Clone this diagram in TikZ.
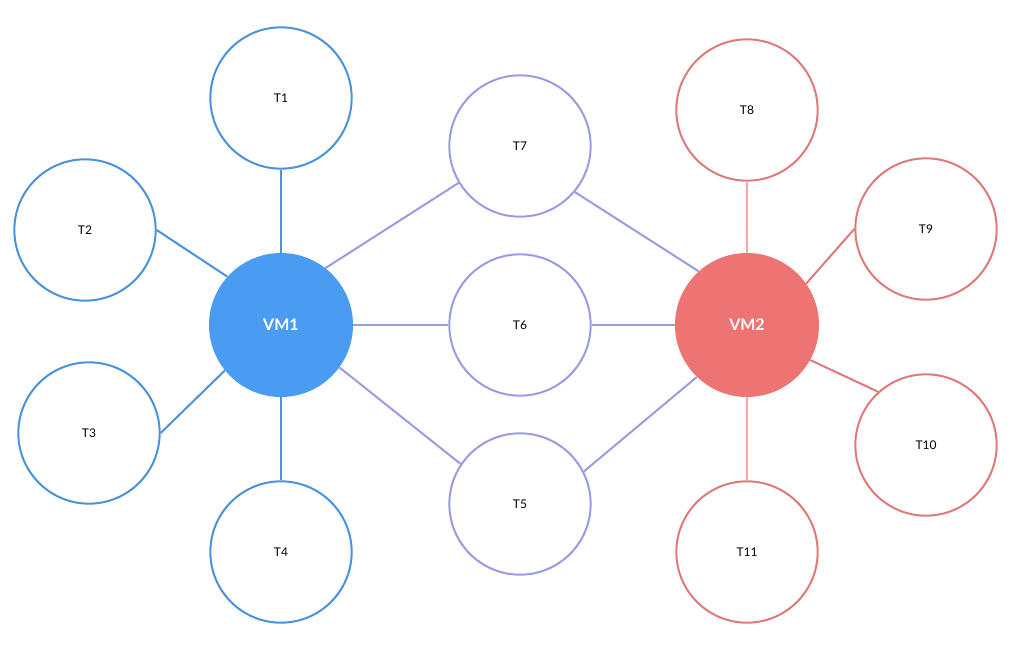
\documentclass[tikz,border=0pt]{standalone}
\usepackage{fontspec}
\setmainfont{Lato}
\usepackage{tikz}
\usetikzlibrary{positioning, calc}
\definecolor{vmblue}{HTML}{4A9BF2}
\definecolor{lineblue}{HTML}{4A92DA}
\definecolor{vmred}{HTML}{EE7373}
\definecolor{linered}{HTML}{DE7A7A}
\definecolor{linepink}{HTML}{F2A9A9}
\definecolor{linepurple}{HTML}{9A9CE2}

\begin{document}
\begin{tikzpicture}[
  x=0.75pt, y=-0.75pt,
  task/.style={draw, circle, line width=1.5pt, minimum size=106pt, inner sep=0pt, fill=white, font=\small},
  vm/.style={circle, minimum size=108pt, inner sep=0pt, text=white, font=\large\bfseries},
  bluetask/.style={task, draw=lineblue},
  redtask/.style={task, draw=linered},
  midtask/.style={task, draw=linepurple},
  link/.style={line width=1.5pt},
]
  \useasboundingbox (0,0) rectangle (1022,647);

  % Virtual machines
  \node (vm1) [vm, fill=vmblue] at (281,325) {VM1};
  \node (vm2) [vm, fill=vmred] at (747,325) {VM2};

  % Tasks of VM1
  \node (t1) [bluetask] at (281,98) {T1};
  \node (t2) [bluetask] at (85,230) {T2};
  \node (t3) [bluetask] at (89,433) {T3};
  \node (t4) [bluetask] at (281,552) {T4};

  % Shared tasks
  \node (t7) [midtask] at (520,146) {T7};
  \node (t6) [midtask] at (520,325) {T6};
  \node (t5) [midtask] at (520,504) {T5};

  % Tasks of VM2
  \node (t8) [redtask] at (747,110) {T8};
  \node (t9) [redtask] at (926,229) {T9};
  \node (t10) [redtask] at (926,445) {T10};
  \node (t11) [redtask] at (747,552) {T11};

  % Connect VM1 to its tasks
  \draw [link, lineblue] (vm1.north) -- (t1.south);
  \draw [link, lineblue] (vm1.138) -- (t2.east);
  \draw [link, lineblue] (vm1.219) -- (t3.east);
  \draw [link, lineblue] (vm1.south) -- (t4.north);

  % Connect both machines to the shared tasks
  \draw [link, linepurple] (vm1.52) -- (t7.211);
  \draw [link, linepurple] (vm1.east) -- (t6.west);
  \draw [link, linepurple] (vm1.324) -- (t5.146);
  \draw [link, linepurple] (t7.320) -- (vm2.132);
  \draw [link, linepurple] (t6.east) -- (vm2.west);
  \draw [link, linepurple] (t5.27) -- (vm2.226);

  % Connect VM2 to its tasks
  \draw [link, linepink] (vm2.north) -- (t8.south);
  \draw [link, linered] (vm2.35) -- (t9.west);
  \draw [link, linered] (vm2.331) -- (t10.132);
  \draw [link, linepink] (vm2.south) -- (t11.north);

\end{tikzpicture}
\end{document}
